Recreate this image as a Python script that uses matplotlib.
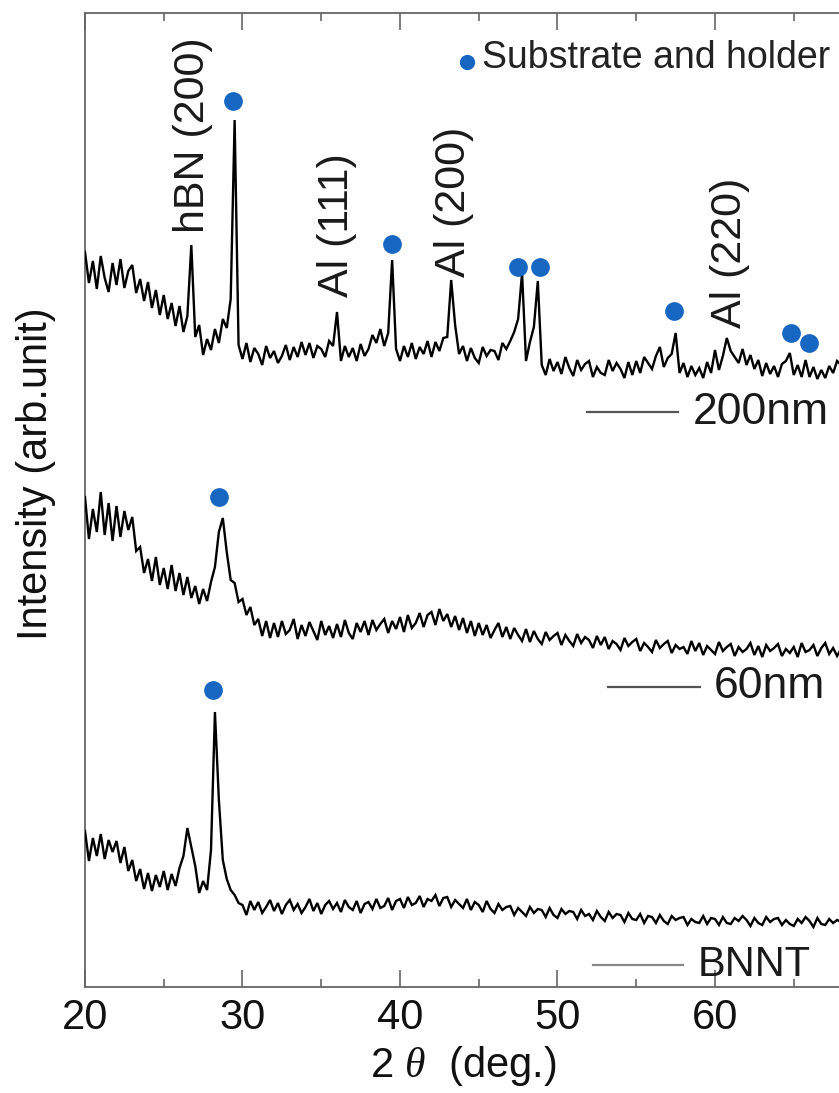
import numpy as np
import matplotlib
matplotlib.use("Agg")
import matplotlib.pyplot as plt

plt.rcParams['font.family'] = ['Liberation Sans', 'DejaVu Sans']
plt.rcParams['mathtext.fontset'] = 'custom'
plt.rcParams['mathtext.rm'] = 'Liberation Sans'
plt.rcParams['mathtext.it'] = 'Liberation Serif:italic'

# ---------------- data (arbitrary intensity units) ----------------
two_theta = np.round(np.arange(20.0, 68.001, 0.25), 2)

int_200nm = [
    735, 704, 726, 698, 731, 709, 695, 724, 702, 728, 699, 716,
    722, 694, 708, 686, 705, 679, 697, 672, 692, 668, 684, 661,
    681, 655, 671, 742, 650, 662, 632, 648, 637, 658, 644, 668,
    659, 688, 867, 642, 628, 644, 625, 639, 633, 622, 641, 629,
    636, 624, 631, 642, 627, 640, 630, 645, 632, 644, 629, 641,
    638, 630, 646, 641, 675, 626, 641, 630, 639, 626, 643, 631,
    638, 652, 644, 658, 641, 654, 727, 638, 626, 641, 630, 644,
    628, 640, 633, 646, 630, 645, 636, 649, 650, 707, 662, 633,
    641, 626, 639, 629, 624, 640, 631, 637, 636, 627, 644, 638,
    646, 655, 668, 714, 626, 645, 660, 706, 622, 612, 628, 616,
    625, 613, 630, 619, 611, 627, 617, 623, 626, 610, 620, 614,
    612, 627, 616, 624, 618, 609, 625, 612, 626, 614, 630, 624,
    618, 631, 640, 620, 629, 633, 654, 614, 624, 610, 621, 612,
    619, 609, 625, 614, 637, 617, 631, 649, 636, 630, 624, 638,
    622, 632, 618, 627, 611, 624, 613, 621, 610, 623, 626, 634,
    612, 622, 610, 627, 610, 620, 608, 617, 609, 621, 614, 626,
    622]

int_60nm = [
    490, 448, 478, 455, 495, 452, 484, 446, 481, 450, 476, 457,
    470, 436, 440, 414, 428, 406, 430, 402, 419, 398, 422, 396,
    414, 392, 410, 389, 401, 383, 398, 386, 405, 420, 455, 469,
    435, 407, 404, 385, 388, 372, 380, 362, 368, 351, 366, 349,
    364, 350, 366, 353, 357, 368, 348, 362, 351, 365, 356, 347,
    366, 352, 361, 349, 363, 350, 367, 354, 348, 364, 355, 366,
    352, 367, 357, 363, 368, 354, 366, 358, 370, 355, 372, 359,
    364, 374, 360, 372, 375, 362, 378, 366, 373, 360, 371, 357,
    369, 354, 366, 351, 364, 352, 362, 349, 357, 364, 350, 360,
    348, 359, 352, 346, 358, 345, 356, 348, 343, 355, 347, 351,
    354, 342, 352, 346, 341, 353, 344, 350, 347, 339, 351, 342,
    350, 338, 346, 343, 337, 349, 341, 345, 348, 336, 344, 340,
    335, 347, 339, 343, 346, 334, 342, 338, 340, 333, 346, 336,
    344, 332, 341, 337, 333, 345, 336, 340, 343, 331, 340, 335,
    338, 344, 332, 341, 330, 342, 336, 339, 343, 331, 338, 334,
    340, 330, 344, 335, 337, 342, 331, 339, 344, 333, 339, 331,
    338]

int_bnnt = [
    156, 126, 149, 131, 153, 128, 147, 135, 146, 124, 140, 116,
    127, 106, 118, 98, 114, 96, 112, 100, 116, 97, 113, 101,
    119, 131, 159, 140, 121, 94, 106, 97, 137, 275, 187, 127,
    108, 97, 92, 84, 82, 72, 86, 77, 85, 74, 80, 87,
    76, 84, 73, 82, 87, 77, 83, 74, 80, 88, 76, 84,
    73, 82, 86, 78, 84, 75, 87, 80, 77, 86, 74, 83,
    85, 78, 88, 79, 81, 89, 77, 86, 88, 79, 90, 82,
    84, 91, 80, 88, 86, 92, 81, 89, 90, 80, 87, 83,
    79, 88, 77, 85, 82, 75, 86, 78, 74, 83, 77, 80,
    81, 72, 79, 75, 71, 80, 74, 78, 77, 70, 79, 72,
    69, 78, 73, 76, 75, 68, 77, 71, 73, 67, 76, 70,
    66, 75, 69, 73, 72, 65, 74, 68, 67, 73, 64, 71,
    70, 64, 72, 66, 63, 71, 67, 69, 70, 62, 68, 65,
    64, 71, 63, 69, 68, 62, 70, 64, 63, 69, 66, 71,
    67, 61, 69, 64, 62, 70, 65, 68, 69, 62, 67, 63,
    61, 68, 64, 70, 66, 60, 69, 63, 62, 68, 64, 67,
    65]

marker_x = [29.4, 39.5, 47.5, 48.9, 57.4, 64.8, 66.0, 28.5, 28.1]
marker_y = [886, 743, 720, 720, 676, 654, 644, 490, 297]

peak_labels = ['hBN (200)', 'Al (111)', 'Al (200)', 'Al (220)']
peak_label_x = [26.85, 36.0, 43.4, 60.95]
peak_label_y = [754, 690, 710, 659]

series_names = ['200nm', '60nm', 'BNNT']

# ---------------- figure ----------------
W, H = 839, 1093
fig = plt.figure(figsize=(W / 100, H / 100), dpi=100)
ax = fig.add_axes([85 / W, 1 - 987 / H, (872.5 - 85) / W, (987 - 13) / H])
ax.set_xlim(20, 70)
ax.set_ylim(0, 974)

for y in (int_200nm, int_60nm, int_bnnt):
    ax.plot(two_theta, y, color='black', lw=1.7, zorder=3,
            solid_joinstyle='miter')

ax.plot(marker_x, marker_y, 'o', color='#1766c2', ms=13.5, mec='none', zorder=4)

for lab, lx, ly in zip(peak_labels, peak_label_x, peak_label_y):
    ax.text(lx, ly, lab, rotation=90, ha='center', va='bottom',
            fontsize=31, color='#1a1a1a')

# series identifiers (line + name)
ident = [((51.9, 57.65), 575, 58.6, '#555555', 32),
         ((53.2, 59.05), 300, 59.9, '#555555', 32),
         ((52.25, 57.95), 22, 58.9, '#888888', 30)]
for name, (xs, yy, tx, col, fs) in zip(series_names, ident):
    ax.plot(xs, [yy, yy], color=col, lw=1.6)
    ax.text(tx, yy, name, ha='left', va='center', fontsize=fs, color='#1a1a1a')

# legend for markers
ax.plot([44.25], [925], 'o', color='#1766c2', ms=11, mec='none')
ax.text(45.2, 929, 'Substrate and holder', ha='left', va='center',
        fontsize=27, color='#222222')

# axes styling
for s in ax.spines.values():
    s.set_color('#666666')
    s.set_linewidth(1.3)
ax.set_xticks([20, 30, 40, 50, 60, 70])
ax.set_xticklabels(['20', '30', '40', '50', '60', ''])
ax.set_xticks([25, 35, 45, 55, 65], minor=True)
ax.set_yticks([])
ax.tick_params(axis='x', which='both', direction='in', top=True, bottom=True,
               colors='#666666', labelcolor='#111111', labelsize=30, pad=8,
               width=1.2)
ax.tick_params(axis='x', which='major', length=12)
ax.tick_params(axis='x', which='minor', length=6)

fig.text(463 / W, 1 - 1066 / H, '2 $\\theta$  (deg.)', ha='center', va='center',
         fontsize=30, color='#111111')
fig.text(36 / W, 1 - 474 / H, 'Intensity (arb.unit)', rotation=90,
         ha='center', va='center', fontsize=30, color='#111111')

fig.savefig('out.png', dpi=100)
